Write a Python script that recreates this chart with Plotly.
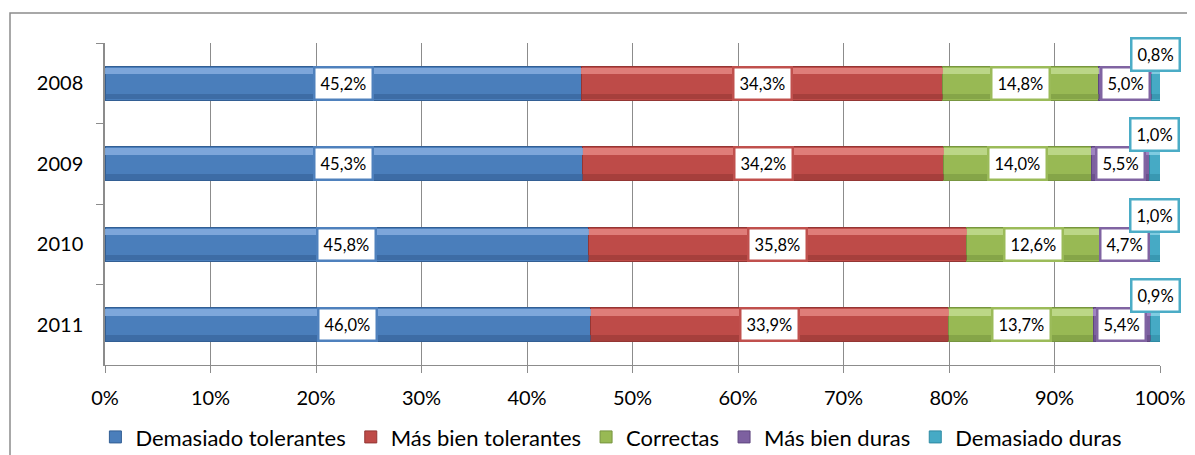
import plotly.graph_objects as go

years = ["2008", "2009", "2010", "2011"]
series_names = ["Demasiado tolerantes", "Más bien tolerantes", "Correctas", "Más bien duras", "Demasiado duras"]
demasiado_tolerantes = [45.2, 45.3, 45.8, 46.0]
mas_bien_tolerantes = [34.3, 34.2, 35.8, 33.9]
correctas = [14.8, 14.0, 12.6, 13.7]
mas_bien_duras = [5.0, 5.5, 4.7, 5.4]
demasiado_duras = [0.8, 1.0, 1.0, 0.9]
x_ticks = [0, 10, 20, 30, 40, 50, 60, 70, 80, 90, 100]

series_values = [demasiado_tolerantes, mas_bien_tolerantes, correctas, mas_bien_duras, demasiado_duras]
base_colors = ["#4A7EBB", "#BE4B48", "#98B954", "#7D60A0", "#46AAC5"]
light_colors = ["#86AEE0", "#E58682", "#C2DC90", "#A68BC8", "#8AD3E6"]
dark_colors = ["#335F94", "#943634", "#779540", "#5F467F", "#2F8AA3"]
border_colors = ["#4F81BD", "#C0504D", "#9BBB59", "#8064A2", "#4BACC6"]

FONT = "Lato, Carlito, Calibri, sans-serif"

fig = go.Figure()
for name, vals, c, dc in zip(series_names, series_values, base_colors, dark_colors):
    fig.add_trace(go.Bar(
        name=name, y=years, x=vals, orientation="h", width=0.42,
        marker=dict(color=c, line=dict(color=dc, width=1)),
        hoverinfo="skip", yaxis="y",
    ))
# highlight and shade bands for bevel look
for vals, lc in zip(series_values, light_colors):
    fig.add_trace(go.Bar(
        y=years, x=vals, orientation="h", width=0.08, offset=-0.19,
        marker=dict(color=lc, line=dict(width=0)), opacity=0.85,
        showlegend=False, hoverinfo="skip", yaxis="y2",
    ))
for vals, dc in zip(series_values, dark_colors):
    fig.add_trace(go.Bar(
        y=years, x=vals, orientation="h", width=0.07, offset=0.13,
        marker=dict(color=dc, line=dict(width=0)), opacity=0.55,
        showlegend=False, hoverinfo="skip", yaxis="y3",
    ))

# data label annotations
annotations = []
for yi, yr in enumerate(years):
    total = sum(s[yi] for s in series_values)
    cum = 0.0
    for si, vals in enumerate(series_values):
        v = vals[yi]
        center = (cum + v / 2) / total * 100
        cum += v
        annotations.append(dict(
            x=center, y=yi, xref="x", yref="y",
            text=f"{v:.1f}%".replace(".", ","),
            showarrow=False,
            font=dict(family=FONT, size=16.5, color="#000"),
            bgcolor="white", bordercolor=border_colors[si], borderwidth=2.5, borderpad=5,
            yshift=29 if si == 4 else 0,
        ))

common_y = dict(type="category", categoryorder="array", categoryarray=years, range=[3.5, -0.5])

W, H = 1187, 447
L, T = 97, 35
PW, PH = 1055, 322

fig.update_layout(
    width=W, height=H,
    margin=dict(l=L, r=W - L - PW, t=T, b=H - T - PH, autoexpand=False),
    paper_bgcolor="white", plot_bgcolor="white",
    barmode="stack", barnorm="percent",
    font=dict(family=FONT, size=20, color="#000"),
    xaxis=dict(range=[0, 100], tickvals=x_ticks, ticktext=[f"{t}%" for t in x_ticks],
               showgrid=True, gridcolor="#8C8C8C", gridwidth=1,
               showline=True, linecolor="#8C8C8C", linewidth=1,
               ticks="outside", ticklen=7, tickcolor="#8C8C8C",
               ticklabelstandoff=8, automargin=False,
               tickfont=dict(size=20, family=FONT), zeroline=False, fixedrange=True),
    yaxis=dict(**common_y, showgrid=False, showline=True, linecolor="#8C8C8C", linewidth=1.5,
               ticks="outside", tickson="boundaries", ticklen=7, tickcolor="#8C8C8C",
               ticklabelstandoff=16, automargin=False,
               tickfont=dict(size=20, family=FONT)),
    yaxis2=dict(**common_y, overlaying="y", visible=False),
    yaxis3=dict(**common_y, overlaying="y", visible=False),
    legend=dict(orientation="h", x=0.48, xanchor="center",
                yref="container", y=0.04, yanchor="middle",
                font=dict(size=22, family=FONT), traceorder="normal", itemwidth=30),
    annotations=annotations,
    shapes=[dict(type="rect", xref="paper", yref="paper",
                 x0=(10 - 105) / PW, x1=1.2, y0=-0.6, y1=(365 - 13) / PH,
                 line=dict(color="#8C8C8C", width=1.5), fillcolor="rgba(0,0,0,0)", layer="below")],
)

fig.write_html("out.html")
